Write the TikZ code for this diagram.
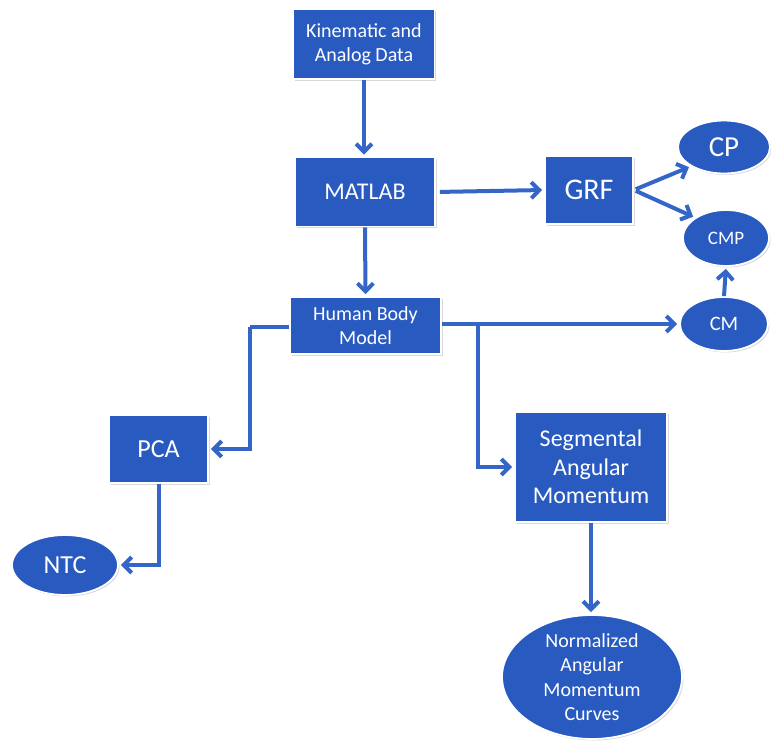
\documentclass[tikz,border=0pt]{standalone}
\usepackage{fontspec}
\setmainfont{Carlito}
\usetikzlibrary{arrows.meta,shapes.geometric,shadows}
\definecolor{boxblue}{RGB}{40,90,192}
\definecolor{arrblue}{RGB}{52,102,200}
\tikzset{
  base/.style={fill=boxblue, draw=white, line width=1.8pt, text=white, align=center, inner sep=0pt,
    drop shadow={opacity=0.3, shadow xshift=1.5pt, shadow yshift=-1.5pt}},
  boxnode/.style={base, rectangle},
  ellnode/.style={base, ellipse},
  arr/.style={draw=arrblue, line width=4pt, -{Straight Barb[length=8pt,width=16pt,line width=4pt]}, shorten >=2pt},
  ln/.style={draw=arrblue, line width=4pt}
}
\begin{document}
\begin{tikzpicture}[x=1pt,y=-1pt]
\useasboundingbox (0,0) rectangle (771,744);
\node[boxnode, minimum width=141pt, minimum height=70pt, font=\fontsize{20}{24}\selectfont] (kin) at (364,44) {Kinematic and\\Analog Data};
\node[boxnode, minimum width=140pt, minimum height=69pt, font=\fontsize{24}{28}\selectfont] (mat) at (365,192) {MATLAB};
\node[boxnode, minimum width=88pt, minimum height=68pt, font=\fontsize{30}{36}\selectfont] (grf) at (589,190) {GRF};
\node[boxnode, minimum width=151pt, minimum height=57pt, font=\fontsize{20}{24}\selectfont] (hbm) at (365.5,325.5) {Human Body\\Model};
\node[boxnode, minimum width=99pt, minimum height=68pt, font=\fontsize{26}{30}\selectfont] (pca) at (158.5,449) {PCA};
\node[boxnode, minimum width=152pt, minimum height=110pt, font=\fontsize{24}{28.5}\selectfont] (seg) at (591,467) {Segmental\\Angular\\Momentum};
\node[ellnode, minimum width=92pt, minimum height=53pt, font=\fontsize{29}{34}\selectfont] (cp) at (724,147) {CP};
\node[ellnode, minimum width=86pt, minimum height=56pt, font=\fontsize{19}{23}\selectfont] (cmp) at (726,238) {CMP};
\node[ellnode, minimum width=88pt, minimum height=54pt, font=\fontsize{20.5}{24}\selectfont] (cm) at (724,324) {CM};
\node[ellnode, minimum width=106pt, minimum height=60pt, font=\fontsize{26}{30}\selectfont] (ntc) at (65,565) {NTC};
\node[ellnode, minimum width=180pt, minimum height=124pt, font=\fontsize{20}{24.5}\selectfont] (nam) at (592,677) {Normalized\\Angular\\Momentum\\Curves};

\coordinate (br) at (478,324);
\coordinate (lf) at (250,327);

\draw[arr] (kin.south) -- (kin.south |- mat.north);
\draw[arr] (mat.south) -- (hbm.north);
\draw[arr, shorten <=4pt] (mat.east) -- (grf.west);
\draw[arr, shorten <=2pt] (grf.east) -- (cp.south west);
\draw[arr, shorten <=2pt] (grf.east) -- (cmp.north west);
\draw[arr] (hbm.east |- cm.west) -- (cm.west);
\draw[arr] (br) |- (seg.west);
\draw[ln] (lf -| hbm.west) -- (lf);
\draw[arr] (lf) |- (pca.east);
\draw[arr] (pca.south) |- (ntc.east);
\draw[arr] (seg.south) -- (seg.south |- nam.north);
\draw[arr] (cm.north) -- (cmp.south);
\end{tikzpicture}
\end{document}
